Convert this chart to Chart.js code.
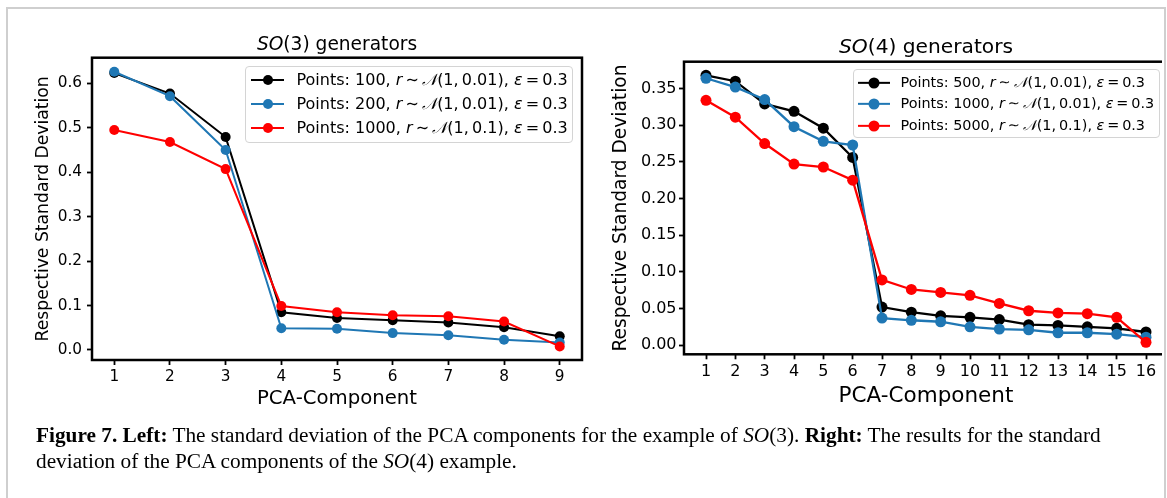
<!DOCTYPE html>
<html><head><meta charset="utf-8">
<script src="https://cdn.jsdelivr.net/npm/chart.js@4.4.1/dist/chart.umd.min.js"></script>
<style>
html,body{margin:0;padding:0;background:#fff;}
body{width:1167px;height:498px;position:relative;overflow:hidden;font-family:"DejaVu Sans",sans-serif;color:#000;}
#clip{position:absolute;left:0;top:0;width:1162px;height:498px;overflow:hidden;}
#clip canvas{position:absolute;top:0;}
#frame{position:absolute;left:6px;top:7px;width:1156px;height:520px;border:2px solid #cfcfcf;pointer-events:none;}
.ttl{position:absolute;white-space:nowrap;transform:translate(-50%,-50%);line-height:1.2;}
.legend{position:absolute;background:rgba(255,255,255,0.8);border:1px solid #d4d4d4;border-radius:4px;box-sizing:border-box;}
.row{position:absolute;left:0;height:0;width:100%;}
.hl{position:absolute;top:0;transform:translateY(-50%);}
.hm{position:absolute;top:0;border-radius:50%;transform:translate(-50%,-50%);}
.lt{position:absolute;top:0;white-space:nowrap;transform:translateY(-50%);line-height:1.2;}
.cal{font-family:"DejaVu Serif","DejaVu Sans",serif;font-style:italic;}
#caption{position:absolute;left:36px;top:422px;font-family:"Liberation Serif","Times New Roman",serif;line-height:26px;white-space:nowrap;}
</style>
</head><body>
<div id="clip">
  <canvas id="c3" width="600" height="440" style="left:0px"></canvas>
  <canvas id="c4" width="600" height="440" style="left:590px"></canvas>
</div>
<div class="ttl" style="left:337px;top:44px;font-size:18.6px"><i>SO</i>(3) generators</div>
<div class="ttl" style="left:926px;top:46px;font-size:20.2px"><i>SO</i>(4) generators</div>
<div id="leg3" class="legend" style="left:245px;top:66px;width:328px;height:77px;font-size:16px"></div>
<div id="leg4" class="legend" style="left:853px;top:69px;width:307px;height:69px;font-size:14.4px"></div>
<div id="caption"><span id="cap1"><b>Figure 7. Left:</b> The standard deviation of the PCA components for the example of <i>SO</i>(3). <b>Right:</b> The results for the standard</span><br>deviation of the PCA components of the <i>SO</i>(4) example.</div>
<div id="frame"></div>
<script>
// ---------- data ----------
const components3 = [1, 2, 3, 4, 5, 6, 7, 8, 9];
const so3Points100  = [0.623, 0.577, 0.479, 0.085, 0.072, 0.067, 0.062, 0.051, 0.031];
const so3Points200  = [0.626, 0.571, 0.450, 0.049, 0.048, 0.038, 0.033, 0.023, 0.017];
const so3Points1000 = [0.495, 0.468, 0.407, 0.099, 0.085, 0.078, 0.076, 0.064, 0.008];
const so3YTicks = [0.0, 0.1, 0.2, 0.3, 0.4, 0.5, 0.6];
const so3Labels = ['Points: 100', 'Points: 200', 'Points: 1000'];
const so3Sigma = ['0.01', '0.01', '0.1'];

const components4 = [1, 2, 3, 4, 5, 6, 7, 8, 9, 10, 11, 12, 13, 14, 15, 16];
const so4Points500  = [0.368, 0.360, 0.329, 0.319, 0.296, 0.256, 0.052, 0.045, 0.040, 0.038, 0.035, 0.028, 0.027, 0.025, 0.023, 0.018];
const so4Points1000 = [0.364, 0.352, 0.335, 0.298, 0.278, 0.273, 0.037, 0.034, 0.032, 0.025, 0.022, 0.021, 0.017, 0.017, 0.015, 0.011];
const so4Points5000 = [0.334, 0.311, 0.275, 0.247, 0.243, 0.225, 0.089, 0.076, 0.072, 0.068, 0.057, 0.047, 0.044, 0.043, 0.038, 0.004];
const so4YTicks = [0.00, 0.05, 0.10, 0.15, 0.20, 0.25, 0.30, 0.35];
const so4Labels = ['Points: 500', 'Points: 1000', 'Points: 5000'];
const so4Sigma = ['0.01', '0.01', '0.1'];

const seriesColors = ['#000000', '#1f77b4', '#ff0000'];

// ---------- helpers ----------
const framePlugin = {
  id: 'frame',
  afterDatasetsDraw(chart, args, opts) {
    const {ctx, chartArea: a} = chart;
    ctx.save();
    ctx.strokeStyle = '#000';
    ctx.lineWidth = opts.width || 2.5;
    ctx.strokeRect(a.left, a.top, a.right - a.left, a.bottom - a.top);
    ctx.restore();
  }
};

function makeChart(id, L) {
  const datasets = L.series.map((vals, i) => ({
    data: L.x.map((xv, k) => ({x: xv, y: vals[k]})),
    borderColor: seriesColors[i],
    backgroundColor: seriesColors[i],
    pointBackgroundColor: seriesColors[i],
    pointBorderWidth: 0,
    pointRadius: L.pr,
    borderWidth: L.lw,
    tension: 0,
    order: 3 - i
  }));
  return new Chart(document.getElementById(id), {
    type: 'line',
    data: {datasets},
    plugins: [framePlugin],
    options: {
      responsive: false,
      animation: false,
      events: [],
      layout: {padding: L.pad},
      plugins: {legend: {display: false}, tooltip: {enabled: false}, frame: {width: 2.5}},
      scales: {
        x: {
          type: 'linear', min: L.xmin, max: L.xmax,
          afterBuildTicks: s => { s.ticks = L.x.map(v => ({value: v})); },
          afterFit: s => { s.height = L.xh; },
          border: {display: false},
          grid: {display: true, drawOnChartArea: false, drawTicks: true, tickLength: 5, tickColor: '#000', tickWidth: 1.8},
          ticks: {color: '#000', font: {family: 'DejaVu Sans', size: L.tick}, padding: L.xpad, maxRotation: 0, autoSkip: false, callback: v => String(v)},
          title: {display: true, text: 'PCA-Component', color: '#000', font: {family: 'DejaVu Sans', size: L.xt}, padding: {top: 0, bottom: 0}}
        },
        y: {
          type: 'linear', min: L.ymin, max: L.ymax,
          afterBuildTicks: s => { s.ticks = L.yt.map(v => ({value: v})); },
          afterFit: s => { s.width = L.yw; },
          border: {display: false},
          grid: {display: true, drawOnChartArea: false, drawTicks: true, tickLength: 5, tickColor: '#000', tickWidth: 1.8},
          ticks: {color: '#000', font: {family: 'DejaVu Sans', size: L.tick}, padding: L.ypad, autoSkip: false, callback: v => v.toFixed(L.dec)},
          title: {display: true, text: 'Respective Standard Deviation', color: '#000', font: {family: 'DejaVu Sans', size: L.yts}, padding: {top: L.ytp, bottom: 0}}
        }
      }
    }
  });
}

makeChart('c3', {
  x: components3, series: [so3Points100, so3Points200, so3Points1000], yt: so3YTicks, dec: 1,
  xmin: 0.6, xmax: 9.4, ymin: -0.0225, ymax: 0.6576,
  pad: {left: 0, top: 57.7, right: 18, bottom: 29.2},
  xh: 50.8, yw: 92, tick: 15.3, xpad: 3, ypad: 5, xt: 19.7, yts: 17.2, ytp: 33, pr: 5, lw: 2
});
makeChart('c4', {
  x: components4, series: [so4Points500, so4Points1000, so4Points5000], yt: so4YTicks, dec: 2,
  xmin: 0.25, xmax: 16.75, ymin: -0.0124, ymax: 0.3866,
  pad: {left: 0, top: 61.7, right: 22, bottom: 30.4},
  xh: 55.3, yw: 94, tick: 16, xpad: 2.5, ypad: 2.5, xt: 21.5, yts: 18.6, ytp: 19.8, pr: 5.5, lw: 2.3
});

// ---------- legends (HTML text) ----------
function buildLegend(id, labels, sigmas, g) {
  const el = document.getElementById(id);
  labels.forEach((lab, i) => {
    const row = document.createElement('div');
    row.className = 'row';
    row.style.top = g.rows[i] + 'px';
    const c = seriesColors[i];
    row.innerHTML =
      `<div class="hl" style="left:${g.l0}px;width:${g.l1 - g.l0}px;height:${g.lw}px;background:${c}"></div>` +
      `<div class="hm" style="left:${(g.l0 + g.l1) / 2}px;width:${2 * g.r}px;height:${2 * g.r}px;background:${c}"></div>` +
      `<div class="lt" style="left:${g.tx}px">${lab}, <i>r</i>\u2009\u223C\u2009<span class="cal">\uD835\uDCA9</span>(1,\u20090.${sigmas[i].split('.')[1]}), <i>\u03B5</i>\u2009=\u20090.3</div>`;
    el.appendChild(row);
  });
}
buildLegend('leg3', so3Labels, so3Sigma, {rows: [13, 37, 61], l0: 5, l1: 38, lw: 2, r: 5, tx: 50.5});
buildLegend('leg4', so4Labels, so4Sigma, {rows: [12.5, 34, 56], l0: 4, l1: 36, lw: 2.3, r: 5.5, tx: 46.5});

// ---------- caption size fit ----------
(function () {
  const cap = document.getElementById('caption');
  cap.style.fontSize = '20px';
  const w = document.getElementById('cap1').getBoundingClientRect().width;
  cap.style.fontSize = (20 * 1065 / w).toFixed(2) + 'px';
})();
</script>
</body></html>
